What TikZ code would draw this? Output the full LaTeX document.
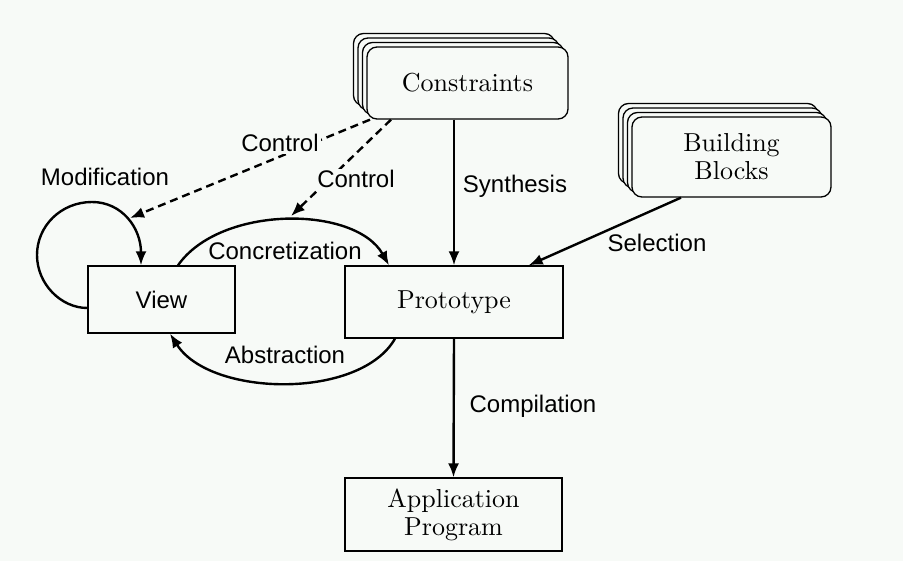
\documentclass[tikz,border=0pt]{standalone}
\usepackage{fontspec}
\setsansfont{Liberation Sans}
\newfontfamily\boxfont{lmroman10-regular.otf}
\usetikzlibrary{arrows.meta}
\definecolor{paper}{RGB}{247,250,247}
\begin{document}
\begin{tikzpicture}[x=1pt,y=-1pt,
  plainbox/.style={draw, line width=1.3pt, fill=paper, inner sep=0pt, align=center,
    font=\boxfont\fontsize{26}{28}\selectfont},
  roundbox/.style={plainbox, rounded corners=10pt},
  flow/.style={line width=2.4pt, -{Latex[length=14pt,width=11pt]}},
  ctrl/.style={flow, dash pattern=on 8pt off 5pt},
  lbl/.style={font=\sffamily\fontsize{24}{28}\selectfont, anchor=base, inner sep=0pt},
  masked/.style={lbl, inner sep=2pt, fill=paper}]

% canvas
\fill[paper] (0,0) rectangle (903,561);
\useasboundingbox (0,0) rectangle (903,561);

% stacked sheets behind the two input boxes
\foreach \d/\k in {13.5/3,9/2,4.5/1}{
  \node[roundbox, minimum width=201pt, minimum height=72pt] (consback\k) at (467.5-\d,83-\d) {};
  \node[roundbox, minimum width=199pt, minimum height=80pt] (bbback\k) at (731.5-\d,157-\d) {};
}

% main boxes
\node[roundbox, minimum width=201pt, minimum height=72pt] (cons) at (467.5,83) {Constraints};
\node[roundbox, minimum width=199pt, minimum height=80pt] (bb) at (731.5,157) {Building\\Blocks};
\node[plainbox, minimum width=147pt, minimum height=67pt] (view) at (161.5,299.5) {\sffamily\fontsize{24}{28}\selectfont View};
\node[plainbox, minimum width=218pt, minimum height=72pt] (proto) at (454,302) {Prototype};
\node[plainbox, minimum width=217pt, minimum height=73pt] (app) at (453.5,514.5) {Application\\Program};

% points where dashed control arrows land
\coordinate (modhit) at (130,218);
\coordinate (conchit) at (291,216);

% solid flows
\draw[flow] (cons.south -| proto.north) -- (proto.north);
\draw[flow] (proto.south) -- (app.north);
\draw[flow] ([xshift=-50.5pt]bb.south) -- ([xshift=-35pt]proto.north east);
\draw[flow] ([xshift=16.5pt]view.north) .. controls (220,205) and (355,205) .. ([xshift=-65pt]proto.north);
\draw[flow] ([xshift=-59pt]proto.south) .. controls (360,400) and (210,397) .. ([xshift=8.5pt]view.south);
\draw[flow] ([yshift=-8.5pt]view.west) .. controls (61,308) and (37,284) .. (37,255)
  .. controls (37,226) and (61,202) .. (92,202)
  .. controls (122,202) and (141,228) .. ([xshift=-20.5pt]view.north);

% dashed control flows
\draw[ctrl] ([xshift=-97.5pt]cons.south) -- (modhit);
\draw[ctrl] ([xshift=-76.5pt]cons.south) -- (conchit);

% labels
\node[lbl] (lmod) at (105,186) {Modification};
\node[masked] (lc1) at (280,152) {Control};
\node[masked] (lc2) at (356,188) {Control};
\node[lbl] (lconc) at (285,260) {Concretization};
\node[lbl] (labs) at (285,364) {Abstraction};
\node[lbl] (lsyn) at (515,193) {Synthesis};
\node[lbl] (lsel) at (657,252) {Selection};
\node[lbl] (lcomp) at (533,413) {Compilation};
\end{tikzpicture}
\end{document}
